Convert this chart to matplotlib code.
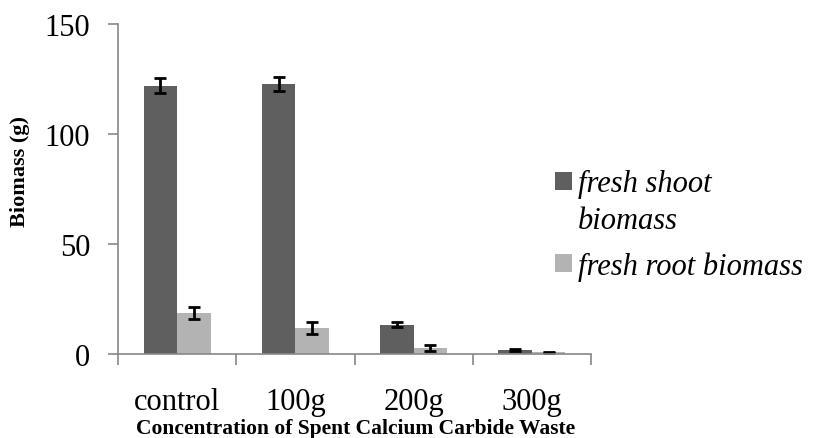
import matplotlib
matplotlib.use("Agg")
import matplotlib.pyplot as plt
import numpy as np
from matplotlib.patches import Patch, Rectangle
from matplotlib.legend_handler import HandlerPatch

categories = ["control", "100g", "200g", "300g"]
shoot = [122.0, 122.6, 13.4, 2.0]
shoot_err = [3.3, 3.1, 1.2, 0.5]
root = [18.6, 11.7, 2.8, 0.8]
root_err = [2.6, 2.7, 1.4, 0.3]
yticks = [0, 50, 100, 150]
series_labels = ["fresh shoot\nbiomass", "fresh root biomass"]

plt.rcParams['font.family'] = ['Liberation Serif', 'DejaVu Serif']

fig = plt.figure(figsize=(8.15, 4.39), dpi=100)
ax = fig.add_axes([118/815, 1-355/439, (591-118)/815, 330/439])

x = np.arange(len(categories))
w = 0.283
dark = "#5f5f5f"
light = "#b3b3b3"
ekw = dict(ecolor="black", elinewidth=2.0, capsize=4.5, capthick=2.0)
ax.bar(x - w/2, shoot, w, color=dark, yerr=shoot_err, error_kw=ekw, zorder=2)
ax.bar(x + w/2, root, w, color=light, yerr=root_err, error_kw=ekw, zorder=2)

ax.set_xlim(-0.5, len(categories) - 0.5)
ax.set_ylim(0, 150)
ax.set_yticks(yticks)
ax.set_xticks(x)
ax.set_xticklabels(categories)
ax.set_xticks(np.arange(len(categories) + 1) - 0.5, minor=True)

spine_c = "#888888"
for s in ["top", "right"]:
    ax.spines[s].set_visible(False)
for s in ["left", "bottom"]:
    ax.spines[s].set_color(spine_c)
    ax.spines[s].set_linewidth(1.2)

ax.tick_params(axis="y", direction="out", length=7, width=1.2, color=spine_c,
               labelsize=22, pad=13)
ax.tick_params(axis="x", which="major", length=0, labelsize=22, pad=24)
ax.tick_params(axis="x", which="minor", direction="out", length=8, width=1.2, color=spine_c)

ax.set_xlabel("Concentration of Spent Calcium Carbide Waste", fontsize=15.5,
              fontweight="bold")
ax.xaxis.set_label_coords(0.503, -0.195)
ax.set_ylabel("Biomass (g)", fontsize=16, fontweight="bold")
ax.yaxis.label.set_va("center")
ax.yaxis.set_label_coords(-0.207, 0.555)

SHIFT_PT = 15.0  # raise of the legend square per extra label line, in points


def square(legend, orig_handle, xdescent, ydescent, width, height, fontsize):
    n = getattr(orig_handle, "_nlines", 1)
    return Rectangle((-xdescent, -ydescent + SHIFT_PT * (n - 1)), width, height)


handles = []
for col, lab in zip([dark, light], series_labels):
    p = Patch(facecolor=col)
    p._nlines = lab.count("\n") + 1
    handles.append(p)

leg = fig.legend(handles, series_labels, loc="upper left",
                 bbox_to_anchor=(555/815, 1-170/439), frameon=False,
                 prop=dict(size=22, style="italic"), handlelength=0.55,
                 handleheight=0.55, handletextpad=0.2, borderpad=0,
                 borderaxespad=0, labelspacing=0.55,
                 handler_map={Patch: HandlerPatch(patch_func=square)})
for t in leg.get_texts():
    t.set_linespacing(1.35)

fig.savefig("out.png", dpi=100)
